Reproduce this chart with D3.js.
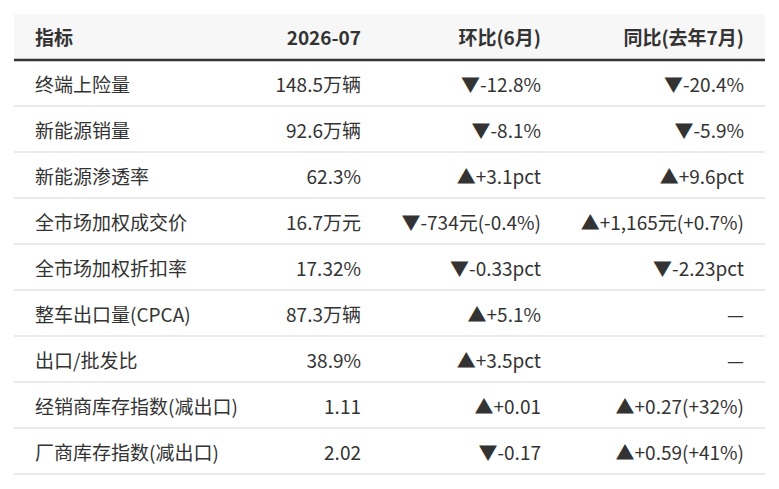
<html>
<head>
  <meta charset="utf-8" />
  <script src="https://cdnjs.cloudflare.com/ajax/libs/d3/7.8.5/d3.min.js"></script>
  <style>
    body { margin: 0; background: #fff; }
    text { font-family: "Noto Sans CJK SC", "Noto Sans", sans-serif; fill: #333; }
  </style>
</head>
<body>
  <svg></svg>
  <script>
  // table contents
  var columns = ["指标", "2026-07", "环比(6月)", "同比(去年7月)"]
  var indicators = ["终端上险量", "新能源销量", "新能源渗透率", "全市场加权成交价", "全市场加权折扣率",
                    "整车出口量(CPCA)", "出口/批发比", "经销商库存指数(减出口)", "厂商库存指数(减出口)"]
  var current = ["148.5万辆", "92.6万辆", "62.3%", "16.7万元", "17.32%", "87.3万辆", "38.9%", "1.11", "2.02"]
  var mom = ["▼-12.8%", "▼-8.1%", "▲+3.1pct", "▼-734元(-0.4%)", "▼-0.33pct", "▲+5.1%", "▲+3.5pct", "▲+0.01", "▼-0.17"]
  var yoy = ["▼-20.4%", "▼-5.9%", "▲+9.6pct", "▲+1,165元(+0.7%)", "▼-2.23pct", "—", "—", "▲+0.27(+32%)", "▲+0.59(+41%)"]

  var width = 779, height = 489
  var tableLeft = 14, tableRight = 765, tableTop = 14, rowH = 46

  var svg = d3.select("svg").attr("width", width).attr("height", height)

  var yScale = d3.scaleBand()
                 .domain(d3.range(indicators.length + 1))
                 .range([tableTop, tableTop + rowH * (indicators.length + 1)])

  // column anchors: first left-aligned, others right-aligned
  var colX = [35, 361, 541, 744]
  var anchors = ["start", "end", "end", "end"]

  // header background
  svg.append("rect")
     .attr("x", tableLeft).attr("y", yScale(0))
     .attr("width", tableRight - tableLeft).attr("height", yScale.bandwidth())
     .attr("fill", "#f7f7f7")

  svg.selectAll("text.head")
     .data(columns)
     .enter().append("text")
       .attr("class", "head")
       .attr("x", (d, i) => colX[i])
       .attr("y", yScale(0) + yScale.bandwidth() / 2 + 1)
       .attr("dy", "0.37em")
       .attr("text-anchor", (d, i) => anchors[i])
       .attr("font-size", 19)
       .attr("font-weight", "bold")
       .text(d => d)

  var rows = indicators.map((d, i) => [d, current[i], mom[i], yoy[i]])

  var rowG = svg.selectAll("g.row")
     .data(rows)
     .enter().append("g")
       .attr("class", "row")
       .attr("transform", (d, i) => "translate(0," + yScale(i + 1) + ")")

  rowG.append("line")
      .attr("x1", tableLeft).attr("x2", tableRight)
      .attr("y1", yScale.bandwidth()).attr("y2", yScale.bandwidth())
      .attr("stroke", "#e3e3e3").attr("stroke-width", 1.5)

  rowG.selectAll("text")
      .data(d => d)
      .enter().append("text")
        .attr("x", (d, i) => colX[i])
        .attr("y", yScale.bandwidth() / 2 + 2)
        .attr("dy", "0.37em")
        .attr("text-anchor", (d, i) => anchors[i])
        .attr("font-size", 19)
        .text(d => d)

  // header bottom rule
  svg.append("line")
     .attr("x1", tableLeft).attr("x2", tableRight)
     .attr("y1", yScale(1)).attr("y2", yScale(1))
     .attr("stroke", "#333").attr("stroke-width", 2.5)
  </script>
</body>
</html>
